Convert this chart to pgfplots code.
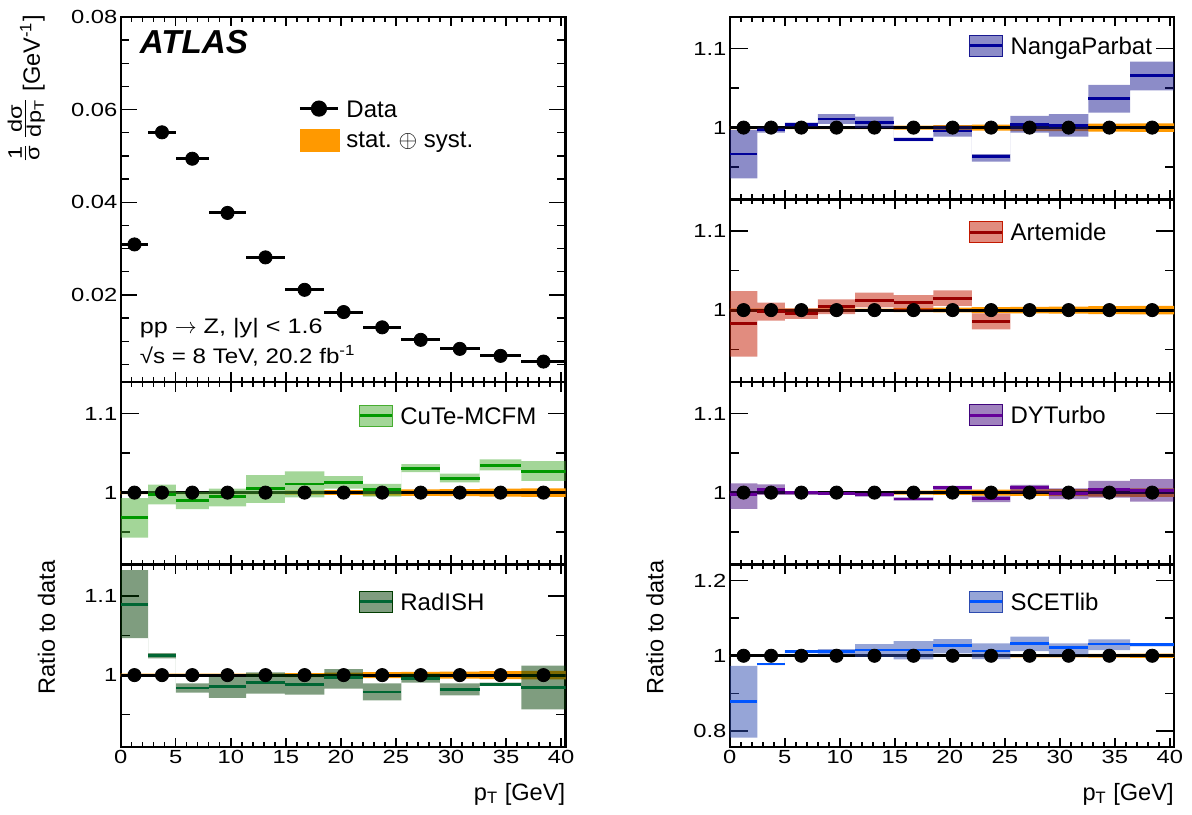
\documentclass[border=0pt]{standalone}
\usepackage{pgfplots}
\pgfplotsset{compat=1.18}
\usepackage{pgfplotstable}
\usepackage{amsmath}
\usepackage{fontspec}
\setmainfont{Liberation Sans}
\newfontfamily\tickfont[FakeStretch=1.25]{Liberation Sans}
\newfontfamily\infofont[FakeStretch=1.15]{Liberation Sans}
\newfontfamily\infofontb[FakeStretch=1.2]{Liberation Sans}

\definecolor{dorange}{RGB}{255,153,0}
\definecolor{cuteline}{RGB}{0,153,0}
\definecolor{cuteband}{RGB}{71,173,49}
\definecolor{radline}{RGB}{0,102,51}
\definecolor{radband}{RGB}{0,60,0}
\definecolor{npline}{RGB}{0,0,153}
\definecolor{npband}{RGB}{25,25,145}
\definecolor{artline}{RGB}{153,0,0}
\definecolor{artband}{RGB}{195,25,0}
\definecolor{dyline}{RGB}{102,0,153}
\definecolor{dyband}{RGB}{65,5,125}
\definecolor{scline}{RGB}{0,85,255}
\definecolor{scband}{RGB}{45,75,175}

% bin centre, half width, normalised cross section, data ratio, model/data central values
\pgfplotstableread{
c ex y r cute radish nanga art dy scet
1.25 1.25 0.0309 1 0.968 1.0894 0.9665 0.9826 0.9971 0.8791
3.75 1.25 0.0551 1 0.998 1.0247 0.997 0.9983 1.0042 0.9778
6.5 1.5 0.0494 1 0.990 0.9838 1.0042 0.9959 1.0 1.0107
9.7 1.7 0.0377 1 0.9946 0.9851 1.011 1.0046 0.9992 1.0107
13.15 1.75 0.0281 1 1.005 0.9906 1.0068 1.0124 0.9979 1.0151
16.7 1.8 0.0211 1 1.011 0.9885 0.9852 1.0095 0.992 1.0151
20.25 1.75 0.0163 1 1.013 0.9966 0.9958 1.0149 1.0063 1.0267
23.75 1.75 0.0130 1 1.004 0.9787 0.9631 0.9859 0.9929 1.0124
27.25 1.75 0.0103 1 1.031 0.9957 1.0042 nan 1.0063 1.0329
30.8 1.8 0.00835 1 1.018 0.9821 1.0025 nan 0.9992 1.0213
34.5 1.9 0.00684 1 1.034 0.988 1.0373 nan 1.0042 1.0311
38.4 2.0 0.00561 1 1.027 0.9847 1.0657 nan 1.0025 1.0293
}\dtab

\pgfplotsset{
 panel/.style={
   scale only axis, xmin=0, xmax=40.4,
   axis line style={line width=1.1pt},
   tick align=inside, xtick pos=both, ytick pos=both,
   xticklabel pos=lower, yticklabel pos=left,
   scaled ticks=false,
   tick style={black, line width=0.7pt},
   xtick={0,5,10,15,20,25,30,35,40},
   minor xtick={1,2,3,4,6,7,8,9,11,12,13,14,16,17,18,19,21,22,23,24,26,27,28,29,31,32,33,34,36,37,38,39},
   xticklabels={},
   xtick style={/pgfplots/major tick length=4.75pt,/pgfplots/minor tick length=2.5pt},
   ytick style={/pgfplots/major tick length=9pt,/pgfplots/minor tick length=4.6pt},
   ticklabel style={font=\fontsize{9.5}{10}\tickfont},
   yticklabel style={inner xsep=1.5pt},
   xticklabel style={inner ysep=1.5pt},
   legend cell align=left,
 },
 lcol/.style={panel, width=222.4pt},
 rcol/.style={panel, width=222.2pt},
 ratio/.style={height=91.25pt, ymin=0.909, ymax=1.14, ytick={1,1.1}, yticklabels={1,1.1}, minor ytick={0.95,1.05}},
 lowx/.style={xticklabels={0,5,10,15,20,25,30,35,40}},
 rleg/.style 2 args={legend style={at={(#1,#2)}, anchor=west, draw=none, fill=none, inner sep=0pt, outer sep=0pt, font=\fontsize{12}{13}\selectfont, nodes={inner sep=0pt, text height=8.6pt, text depth=0pt}, column sep=3.35pt}},
 bandleg/.style 2 args={legend image code/.code={\fill[#1, fill opacity=0.5] (0pt,-5.25pt) rectangle (16.3pt,5.25pt); \draw[#2, line width=1.4pt] (0pt,0pt) -- (16.3pt,0pt);}},
 band/.style={fill=#1, fill opacity=0.5, draw=none, forget plot},
 cline/.style={#1, only marks, mark=*, mark size=0pt, forget plot, error bars/.cd, x dir=both, x explicit, error mark=none, error bar style={line width=1.4pt, #1}},
}

\newcommand\ratiodata{%
  \addplot[fill=dorange, draw=none, forget plot] coordinates {(0,1.002)(14.9,1.002)(14.9,1.0025)(18.5,1.0025)(18.5,1.003)(22,1.003)(22,1.0038)(25.5,1.0038)(25.5,1.0042)(29,1.0042)(29,1.0045)(32.6,1.0045)(32.6,1.005)(36.4,1.005)(36.4,1.0055)(40.4,1.0055)
   (40.4,0.9945)(36.4,0.9945)(36.4,0.995)(32.6,0.995)(32.6,0.9955)(29,0.9955)(29,0.9958)(25.5,0.9958)(25.5,0.9962)(22,0.9962)(22,0.997)(18.5,0.997)(18.5,0.9975)(14.9,0.9975)(14.9,0.998)(0,0.998)};
  \addplot[black, only marks, mark=*, mark size=3.3pt, forget plot, error bars/.cd, x dir=both, x explicit, error mark=none, error bar style={line width=1.5pt, black}] table[x=c, y=r, x error=ex]{\dtab};
}
\newcommand\fr[1]{\text{\fontsize{9.8}{10}\infofontb #1}}

\begin{document}
\begin{tikzpicture}
\path[use as bounding box] (0,0) rectangle (596pt,407pt);

% ---------------- main panel
\begin{axis}[lcol, at={(60.35pt,216pt)}, anchor=south west, height=182.5pt,
  ymin=0.0012, ymax=0.08,
  ytick={0.02,0.04,0.06,0.08}, yticklabels={0.02,0.04,0.06,0.08},
  minor ytick={0.005,0.01,0.015,0.025,0.03,0.035,0.045,0.05,0.055,0.065,0.07,0.075},
  ytick style={/pgfplots/major tick length=8.3pt,/pgfplots/minor tick length=4.2pt},
  legend style={at={(0.3997,0.7726)}, anchor=north west, draw=none, fill=none, inner sep=0pt, outer sep=0pt, font=\fontsize{12}{13}\selectfont, nodes={inner sep=0pt, text height=8.6pt, text depth=0pt}, column sep=3.5pt, row sep=5.8pt},
]
\addlegendimage{black, line width=1.5pt, mark=*, mark size=3.3pt, legend image code/.code={\draw[mark repeat=2, mark phase=2] plot coordinates {(0pt,0pt) (9.5pt,0pt) (19pt,0pt)};}}
\addlegendentry{Data}
\addlegendimage{legend image code/.code={\fill[dorange] (0pt,-6.675pt) rectangle (19.5pt,4.675pt);}}
\addlegendentry{stat.\ $\oplus$ syst.}
\addplot[black, only marks, mark=*, mark size=3.3pt, forget plot, error bars/.cd, x dir=both, x explicit, error mark=none, error bar style={line width=1.5pt, black}] table[x=c, y=y, x error=ex]{\dtab};
\node[anchor=base west, inner sep=0pt, font=\fontsize{16.6}{17}\bfseries\itshape] at (rel axis cs:0.042,0.901) {ATLAS};
\node[anchor=base west, inner sep=0pt, font=\fontsize{10.5}{12}\infofontb] at (rel axis cs:0.042,0.134) {pp $\rightarrow$ Z, |y| < 1.6};
\node[anchor=base west, inner sep=0pt, font=\fontsize{10.5}{12}\infofont] at (rel axis cs:0.042,0.0512) {√s = 8 TeV, 20.2 fb\textsuperscript{-1}};
\end{axis}

% ---------------- CuTe-MCFM
\begin{axis}[lcol, ratio, at={(60.35pt,124.75pt)}, anchor=south west, rleg={0.534}{0.816}]
\addlegendimage{bandleg={cuteband}{cuteline}}
\addlegendentry{CuTe-MCFM}
\ratiodata
\addplot[band=cuteband] coordinates {(0,0.993)(2.5,0.993)(2.5,1.010)(5,1.010)(5,1.001)(8,1.001)(8,1.005)(11.4,1.005)(11.4,1.022)(14.9,1.022)(14.9,1.027)(18.5,1.027)(18.5,1.021)(22,1.021)(22,1.011)(25.5,1.011)(25.5,1.036)(29,1.036)(29,1.024)(32.6,1.024)(32.6,1.042)(36.4,1.042)(36.4,1.040)(40.4,1.040)
 (40.4,1.015)(36.4,1.015)(36.4,1.028)(32.6,1.028)(32.6,1.013)(29,1.013)(29,1.026)(25.5,1.026)(25.5,0.995)(22,0.995)(22,1.005)(18.5,1.005)(18.5,0.994)(14.9,0.994)(14.9,0.987)(11.4,0.987)(11.4,0.9825)(8,0.9825)(8,0.979)(5,0.979)(5,0.985)(2.5,0.985)(2.5,0.943)(0,0.943)};
\addplot[cline=cuteline] table[x=c, y=cute, x error=ex]{\dtab};
\end{axis}

% ---------------- RadISH
\begin{axis}[lcol, ratio, lowx, at={(60.35pt,33.5pt)}, anchor=south west, rleg={0.534}{0.796}]
\addlegendimage{bandleg={radband}{radline}}
\addlegendentry{RadISH}
\ratiodata
\addplot[band=radband] coordinates {(0,1.1328)(2.5,1.1328)(2.5,1.0277)(5,1.0277)(5,0.9894)(8,0.9894)(8,0.9979)(11.4,0.9979)(11.4,1.0034)(14.9,1.0034)(14.9,1.0009)(18.5,1.0009)(18.5,1.0077)(22,1.0077)(22,0.9894)(25.5,0.9894)(25.5,1.002)(29,1.002)(29,0.9894)(32.6,0.9894)(32.6,0.9906)(36.4,0.9906)(36.4,1.0119)(40.4,1.0119)
 (40.4,0.9566)(36.4,0.9566)(36.4,0.9864)(32.6,0.9864)(32.6,0.9745)(29,0.9745)(29,0.9906)(25.5,0.9906)(25.5,0.968)(22,0.968)(22,0.983)(18.5,0.983)(18.5,0.9753)(14.9,0.9753)(14.9,0.9766)(11.4,0.9766)(11.4,0.9711)(8,0.9711)(8,0.9779)(5,0.9779)(5,1.0213)(2.5,1.0213)(2.5,1.0468)(0,1.0468)};
\addplot[cline=radline] table[x=c, y=radish, x error=ex]{\dtab};
\end{axis}

% ---------------- NangaParbat
\begin{axis}[rcol, ratio, at={(364.9pt,307.25pt)}, anchor=south west, rleg={0.537}{0.842}]
\addlegendimage{bandleg={npband}{npline}}
\addlegendentry{NangaParbat}
\ratiodata
\addplot[band=npband] coordinates {(0,0.997)(2.5,0.997)(2.5,1.0)(5,1.0)(5,1.0064)(8,1.0064)(8,1.017)(11.4,1.017)(11.4,1.014)(14.9,1.014)(14.9,0.9873)(18.5,0.9873)(18.5,1.0025)(22,1.0025)(22,0.9665)(25.5,0.9665)(25.5,1.0148)(29,1.0148)(29,1.017)(32.6,1.017)(32.6,1.0542)(36.4,1.0542)(36.4,1.0835)(40.4,1.0835)
 (40.4,1.047)(36.4,1.047)(36.4,1.0191)(32.6,1.0191)(32.6,0.9886)(29,0.9886)(29,0.9936)(25.5,0.9936)(25.5,0.9568)(22,0.9568)(22,0.9886)(18.5,0.9886)(18.5,0.983)(14.9,0.983)(14.9,0.9992)(11.4,0.9992)(11.4,1.0047)(8,1.0047)(8,1.0013)(5,1.0013)(5,0.9936)(2.5,0.9936)(2.5,0.9356)(0,0.9356)};
\addplot[cline=npline] table[x=c, y=nanga, x error=ex]{\dtab};
\end{axis}

% ---------------- Artemide
\begin{axis}[rcol, ratio, at={(364.9pt,216pt)}, anchor=south west, rleg={0.537}{0.821}]
\addlegendimage{bandleg={artband}{artline}}
\addlegendentry{Artemide}
\ratiodata
\addplot[band=artband] coordinates {(0,1.0241)(2.5,1.0241)(2.5,1.0095)(5,1.0095)(5,1.0021)(8,1.0021)(8,1.0137)(11.4,1.0137)(11.4,1.022)(14.9,1.022)(14.9,1.0191)(18.5,1.0191)(18.5,1.0249)(22,1.0249)(22,0.9959)(25.5,0.9959)
 (25.5,0.9755)(22,0.9755)(22,1.0054)(18.5,1.0054)(18.5,1.0)(14.9,1.0)(14.9,1.0033)(11.4,1.0033)(11.4,0.995)(8,0.995)(8,0.9888)(5,0.9888)(5,0.9867)(2.5,0.9867)(2.5,0.9411)(0,0.9411)};
\addplot[cline=artline] table[x=c, y=art, x error=ex]{\dtab};
\end{axis}

% ---------------- DYTurbo
\begin{axis}[rcol, ratio, at={(364.9pt,124.75pt)}, anchor=south west, rleg={0.537}{0.818}]
\addlegendimage{bandleg={dyband}{dyline}}
\addlegendentry{DYTurbo}
\ratiodata
\addplot[band=dyband] coordinates {(0,1.0118)(2.5,1.0118)(2.5,1.0105)(5,1.0105)(5,1.002)(8,1.002)(8,1.0004)(11.4,1.0004)(11.4,1.0)(14.9,1.0)(14.9,0.9941)(18.5,0.9941)(18.5,1.0084)(22,1.0084)(22,0.9958)(25.5,0.9958)(25.5,1.0097)(29,1.0097)(29,1.0055)(32.6,1.0055)(32.6,1.0147)(36.4,1.0147)(36.4,1.0172)(40.4,1.0172)
 (40.4,0.9887)(36.4,0.9887)(36.4,0.9937)(32.6,0.9937)(32.6,0.9916)(29,0.9916)(29,0.9992)(25.5,0.9992)(25.5,0.9878)(22,0.9878)(22,1.0034)(18.5,1.0034)(18.5,0.9899)(14.9,0.9899)(14.9,0.995)(11.4,0.995)(11.4,0.997)(8,0.997)(8,0.997)(5,0.997)(5,0.9971)(2.5,0.9971)(2.5,0.9794)(0,0.9794)};
\addplot[cline=dyline] table[x=c, y=dy, x error=ex]{\dtab};
\end{axis}

% ---------------- SCETlib
\begin{axis}[rcol, lowx, at={(364.9pt,33.5pt)}, anchor=south west, height=91.25pt,
  ymin=0.757, ymax=1.243, ytick={0.8,1,1.2}, yticklabels={0.8,1,1.2}, minor ytick={0.9,1.1},
  rleg={0.537}{0.796}]
\addlegendimage{bandleg={scband}{scline}}
\addlegendentry{SCETlib}
\ratiodata
\addplot[band=scband] coordinates {(0,0.9733)(2.5,0.9733)(2.5,0.9796)(5,0.9796)(5,1.0142)(8,1.0142)(8,1.0178)(11.4,1.0178)(11.4,1.0311)(14.9,1.0311)(14.9,1.0391)(18.5,1.0391)(18.5,1.0444)(22,1.0444)(22,1.0329)(25.5,1.0329)(25.5,1.0507)(29,1.0507)(29,1.0329)(32.6,1.0329)(32.6,1.0436)(36.4,1.0436)(36.4,1.0338)(40.4,1.0338)
 (40.4,1.0249)(36.4,1.0249)(36.4,1.0151)(32.6,1.0151)(32.6,1.0036)(29,1.0036)(29,1.0124)(25.5,1.0124)(25.5,0.9911)(22,0.9911)(22,1.0062)(18.5,1.0062)(18.5,0.9902)(14.9,0.9902)(14.9,0.9973)(11.4,0.9973)(11.4,1.0036)(8,1.0036)(8,1.0071)(5,1.0071)(5,0.9751)(2.5,0.9751)(2.5,0.7822)(0,0.7822)};
\addplot[cline=scline] table[x=c, y=scet, x error=ex]{\dtab};
\end{axis}

% ---------------- axis titles
\node[rotate=90, anchor=base east, inner sep=0pt, font=\fontsize{11.8}{13}\selectfont] at (20pt,399.5pt)
  {\raisebox{4.4pt}{$\frac{\fr{1}}{\fr{σ}}\,\frac{\fr{dσ}}{\fr{dp$_{\text{T}}$}}$}\hspace{3pt}[GeV$^{\text{-1}}$]};
\node[rotate=90, inner sep=0pt, font=\fontsize{11.8}{13}\selectfont] at (23.25pt,93.25pt) {Ratio to data};
\node[rotate=90, inner sep=0pt, font=\fontsize{11.8}{13}\selectfont] at (327.5pt,93.25pt) {Ratio to data};
\node[anchor=base east, inner sep=0pt, font=\fontsize{11.8}{13}\selectfont] at (282.75pt,7pt) {p$_{\text{T}}$ [GeV]};
\node[anchor=base east, inner sep=0pt, font=\fontsize{11.8}{13}\selectfont] at (587pt,7pt) {p$_{\text{T}}$ [GeV]};
\end{tikzpicture}
\end{document}
